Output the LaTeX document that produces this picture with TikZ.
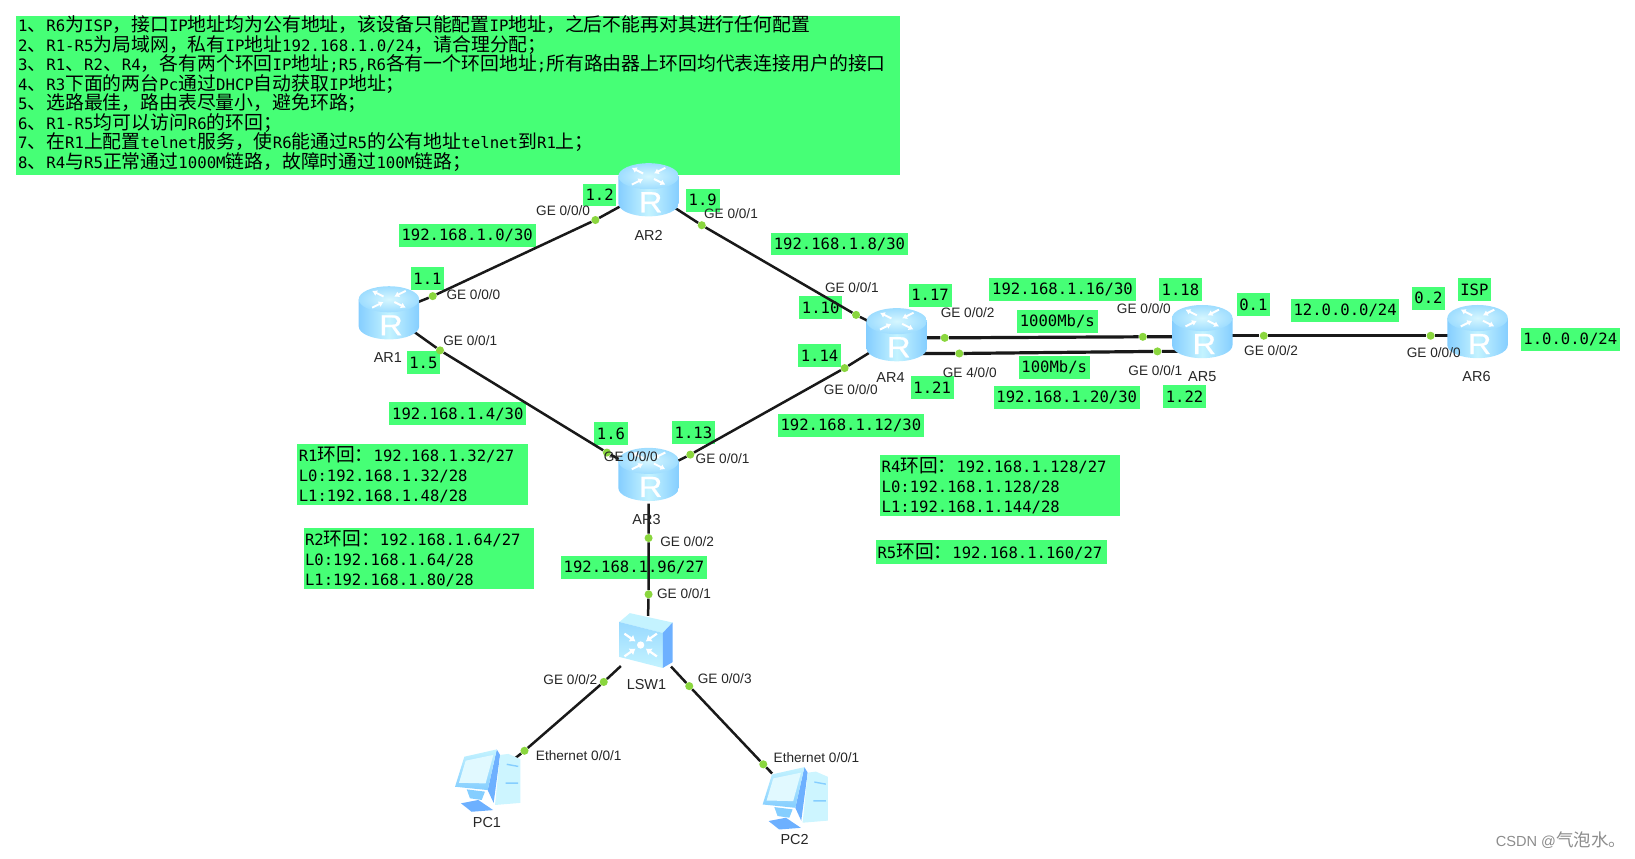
\documentclass[tikz,border=0pt]{standalone}
\usepackage{fontspec}
\setmainfont{Liberation Sans}
\setmonofont{DejaVu Sans Mono}
\newfontfamily\cjk[Scale=1.2]{Noto Sans CJK SC}
\newfontfamily\routerfont[FakeBold=0.6, FakeStretch=1.12]{Liberation Sans}
\newcommand{\zh}[1]{{\cjk #1}}
\usetikzlibrary{positioning, shapes.geometric, arrows.meta}
\pgfdeclarelayer{greenbox}
\pgfdeclarelayer{links}
\pgfsetlayers{greenbox,links,main}
\definecolor{notegreen}{HTML}{46FF76}
\definecolor{dotgreen}{HTML}{8AD63E}
\definecolor{iconpale}{HTML}{C4F3FF}
\definecolor{iconmid}{HTML}{85CEFF}
\definecolor{iconblue}{HTML}{6DB0FF}
\tikzset{
    router_icon/.pic={
        \path[left color=iconmid, right color=iconmid, middle color=iconpale]
            (-29,14) -- (-29,-12) arc[start angle=180, end angle=360, x radius=29, y radius=12.5] -- (29,14) -- cycle;
        \path[inner color=iconpale!70!white, outer color=iconmid!60!iconpale] (0,14) ellipse[x radius=29, y radius=12.5];
        \begin{scope}[shift={(0,14)}, yscale=0.42]
            \foreach \a in {50, 230} {
                \draw[white, line width=1.4pt, -{Latex[length=3.5pt, width=4.5pt]}] (\a:25) -- (\a:8);
            }
            \foreach \a in {130, 310} {
                \draw[white, line width=1.4pt, -{Latex[length=3.5pt, width=4.5pt]}] (\a:8) -- (\a:25);
            }
        \end{scope}
    },
    switch_icon/.pic={
        \fill[iconpale] (-27,18.5) -- (-17,27) -- (24,18) -- (14.6,8) -- cycle;
        \path[top color=iconmid!70!iconpale, bottom color=iconpale] (-27,18.5) -- (14.6,8) -- (14.6,-25.6) -- (-27,-15) -- cycle;
        \fill[iconblue] (14.6,8) -- (24,18) -- (24,-20) -- (14.6,-25.6) -- cycle;
        \fill[white] (-6.6,-3.6) circle (3.5);
        \foreach \a in {35, 145, 215, 325} {
            \draw[white, line width=1.6pt, -{Latex[length=4pt, width=6pt]}] ([shift={(-6.6,-3.6)}]\a:19) -- ([shift={(-6.6,-3.6)}]\a:6);
        }
    },
    pc_icon/.pic={
        \fill[iconblue] (8.4,29.3) -- (11.6,24) -- (5.4,-22) -- (-0.3,-9.7) -- cycle;
        \fill[iconpale!85!white] (11.6,24) -- (19.5,25) -- (31,20) -- (31,-22) -- (6.7,-24) -- cycle;
        \path[top color=iconpale, bottom color=iconmid] (-22.7,22.3) -- (8.4,29.3) -- (-0.3,-9.7) -- (-31.6,-6.5) -- cycle;
        \fill[iconpale!50!white] (-21.4,18.5) -- (5.1,24) -- (-2.3,-3.3) -- (-27.8,-2.7) -- cycle;
        \fill[iconmid] (-20.4,-9) -- (-2.9,-11.2) -- (-6,-19.2) -- (-17.3,-17.6) -- cycle;
        \fill[iconblue] (-25.9,-22.4) -- (-9.3,-19.2) -- (5,-28.9) -- (-15.7,-30.5) -- cycle;
        \draw[iconmid, line width=1pt] (18,15) -- (29,13) (17,-3) -- (29,-3);
    }
}
\begin{document}
\begin{tikzpicture}[
        x=0.75pt, y=0.75pt,
        note_box/.style={fill=notegreen, inner xsep=2pt, inner ysep=1pt, minimum height=16.5pt, font=\fontsize{11.2}{14.6}\selectfont\ttfamily},
        note_block/.style={note_box, anchor=north west, align=left, inner xsep=1pt, inner ysep=0pt, font=\fontsize{11.2}{14.3}\selectfont\ttfamily},
        port_label/.style={inner sep=0pt, font=\fontsize{9.8}{12}\selectfont, text=black!85},
        dev_label/.style={inner sep=0pt, font=\fontsize{10.4}{12}\selectfont, text=black!85},
        port_dot/.style={circle, fill=dotgreen, inner sep=0pt, minimum size=5.8pt},
        link_line/.style={draw=black!90, line width=1.8pt},
        fat_line/.style={draw=black!90, line width=2.3pt},
        router_host/.style={circle, inner sep=0pt, minimum size=40pt},
        router_letter/.style={inner sep=0pt, text=white, font=\fontsize{21}{24}\routerfont}
    ]
        \useasboundingbox (0,-823) rectangle (1568,0);

        % Green notes, under the links
        \begin{pgfonlayer}{greenbox}
            \node[note_block, inner xsep=1.5pt, text width=633pt, minimum height=114pt, font=\fontsize{11.3}{14}\selectfont\ttfamily, execute at end node={\endgraf\vspace{3pt}}] (task_note) at (15,-15) {%
                1\zh{、}R6\zh{为}ISP\zh{，接口}IP\zh{地址均为公有地址，该设备只能配置}IP\zh{地址，之后不能再对其进行任何配置}\\
                2\zh{、}R1-R5\zh{为局域网，私有}IP\zh{地址}192.168.1.0/24\zh{，请合理分配；}\\
                3\zh{、}R1\zh{、}R2\zh{、}R4\zh{，各有两个环回}IP\zh{地址}{;}R5,R6\zh{各有一个环回地址}{;}\zh{所有路由器上环回均代表连接用户的接口}\\
                4\zh{、}R3\zh{下面的两台}Pc\zh{通过}DHCP\zh{自动获取}IP\zh{地址；}\\
                5\zh{、选路最佳，路由表尽量小，避免环路；}\\
                6\zh{、}R1-R5\zh{均可以访问}R6\zh{的环回；}\\
                7\zh{、在}R1\zh{上配置}telnet\zh{服务，使}R6\zh{能通过}R5\zh{的公有地址}telnet\zh{到}R1\zh{上；}\\
                8\zh{、}R4\zh{与}R5\zh{正常通过}1000M\zh{链路，故障时通过}100M\zh{链路；}};

            % Address labels (X, Y, Text)
            \foreach \x/\y/\txt [count=\i] in {
                448/-226/{192.168.1.0/30}, 410/-267/{1.1}, 575/-187/{1.2}, 674/-192/{1.9},
                805/-234/{192.168.1.8/30}, 787/-295/{1.10}, 892/-283/{1.17}, 1019/-278/{192.168.1.16/30},
                1132/-278/{1.18}, 1202/-292/{0.1}, 1290/-298/{12.0.0.0/24}, 1370/-286/{0.2},
                1414/-278/{ISP}, 1506/-326/{1.0.0.0/24}, 1014/-308/{1000Mb/s}, 1011/-352/{100Mb/s},
                894/-372/{1.21}, 1023/-381/{192.168.1.20/30}, 1136/-380/{1.22}, 786/-341/{1.14},
                406/-348/{1.5}, 439/-397/{192.168.1.4/30}, 586/-416/{1.6}, 665/-415/{1.13},
                816/-408/{192.168.1.12/30}, 608/-544/{192.168.1.96/27}} {
                \node[note_box] (addr\i) at (\x,\y) {\txt};
            }

            % Loopback notes
            \node[note_block, text width=163.8pt, minimum height=43.5pt] (loop_r1) at (285,-426) {R1\zh{环回：}192.168.1.32/27\\L0:192.168.1.32/28\\L1:192.168.1.48/28};
            \node[note_block, text width=163.8pt, minimum height=44pt] (loop_r2) at (291,-506) {R2\zh{环回：}192.168.1.64/27\\L0:192.168.1.64/28\\L1:192.168.1.80/28};
            \node[note_block, text width=170.5pt, minimum height=44pt] (loop_r4) at (844,-436) {R4\zh{环回：}192.168.1.128/27\\L0:192.168.1.128/28\\L1:192.168.1.144/28};
            \node[note_block, text width=163.8pt, minimum height=17pt] (loop_r5) at (840,-518) {R5\zh{环回：}192.168.1.160/27};
        \end{pgfonlayer}

        % Devices
        \foreach \name/\x/\y/\lx/\ly in {AR1/373/-301/372/-343, AR2/622/-183/622/-226, AR3/622/-456/620/-498, AR4/860/-322/854/-362, AR5/1153/-319/1153/-361, AR6/1417/-319/1416/-361} {
            \pic at (\x,\y) {router_icon};
            \node[router_host] (\name) at (\x,\y) {};
            \node[router_letter] (\name_r) at (\x+2,\y-11) {R};
            \node[dev_label] (\name_label) at (\lx,\ly) {\name};
        }
        \pic at (621,-615) {switch_icon};
        \node[rectangle, inner sep=0pt, minimum width=38pt, minimum height=36pt] (LSW1) at (621,-615) {};
        \node[dev_label] (LSW1_label) at (620,-656) {LSW1};
        \pic at (468,-748) {pc_icon};
        \node[circle, inner sep=0pt, minimum size=48pt] (PC1) at (468,-748) {};
        \node[dev_label] (PC1_label) at (467,-789) {PC1};
        \pic at (763,-765) {pc_icon};
        \node[circle, inner sep=0pt, minimum size=48pt] (PC2) at (763,-765) {};
        \node[dev_label] (PC2_label) at (762,-805) {PC2};

        % Port dots
        \foreach \dot/\x/\y in {p1/415/-284, p2/571/-211, p3/673/-216, p4/821/-302, p5/422/-336, p6/582/-434,
                p7/662/-436, p8/810/-353, p9/906/-324, p10/1096/-323, p11/920/-339, p12/1110/-337,
                p13/1212/-322, p14/1372/-322, p15/622/-516, p16/622/-570, p17/579/-654, p18/503/-720,
                p19/661/-658, p20/732/-733} {
            \node[port_dot] (\dot) at (\x,\y) {};
        }

        % Links
        \begin{pgfonlayer}{links}
            \foreach \a/\b/\c/\d in {AR1/p1/p2/AR2, AR2/p3/p4/AR4, AR1/p5/p6/AR3, AR3/p7/p8/AR4, AR3/p15/p16/LSW1, LSW1/p17/p18/PC1, LSW1/p19/p20/PC2} {
                \draw[link_line] (\a) -- (\b) -- (\c) -- (\d);
            }
            \draw[fat_line] (AR4 |- p9) -- (p9) -- (p10) -- (AR5 |- p10);
            \draw[fat_line] (AR4 |- p11) -- (p11) -- (p12) -- (AR5 |- p12);
            \draw[fat_line] (AR5 |- p13) -- (p13) -- (p14) -- (AR6 |- p14);
        \end{pgfonlayer}

        % Port names
        \foreach \x/\y/\txt [count=\i] in {
            540/-202/{GE 0/0/0}, 701/-205/{GE 0/0/1}, 454/-283/{GE 0/0/0}, 451/-327/{GE 0/0/1},
            817/-276/{GE 0/0/1}, 928/-300/{GE 0/0/2}, 1097/-296/{GE 0/0/0}, 1219/-336/{GE 0/0/2},
            1375/-338/{GE 0/0/0}, 930/-357/{GE 4/0/0}, 1108/-355/{GE 0/0/1}, 816/-374/{GE 0/0/0},
            605/-438/{GE 0/0/0}, 693/-440/{GE 0/0/1}, 659/-519/{GE 0/0/2}, 656/-569/{GE 0/0/1},
            547/-652/{GE 0/0/2}, 695/-651/{GE 0/0/3}, 555/-725/{Ethernet 0/0/1}, 783/-727/{Ethernet 0/0/1}} {
            \node[port_label] (port\i) at (\x,\y) {\txt};
        }

        \node[inner sep=0pt, text=black!45, font=\fontsize{10.5}{12}\selectfont] (csdn_mark) at (1497,-806) {CSDN @\zh{气泡水。}};
\end{tikzpicture}
\end{document}
